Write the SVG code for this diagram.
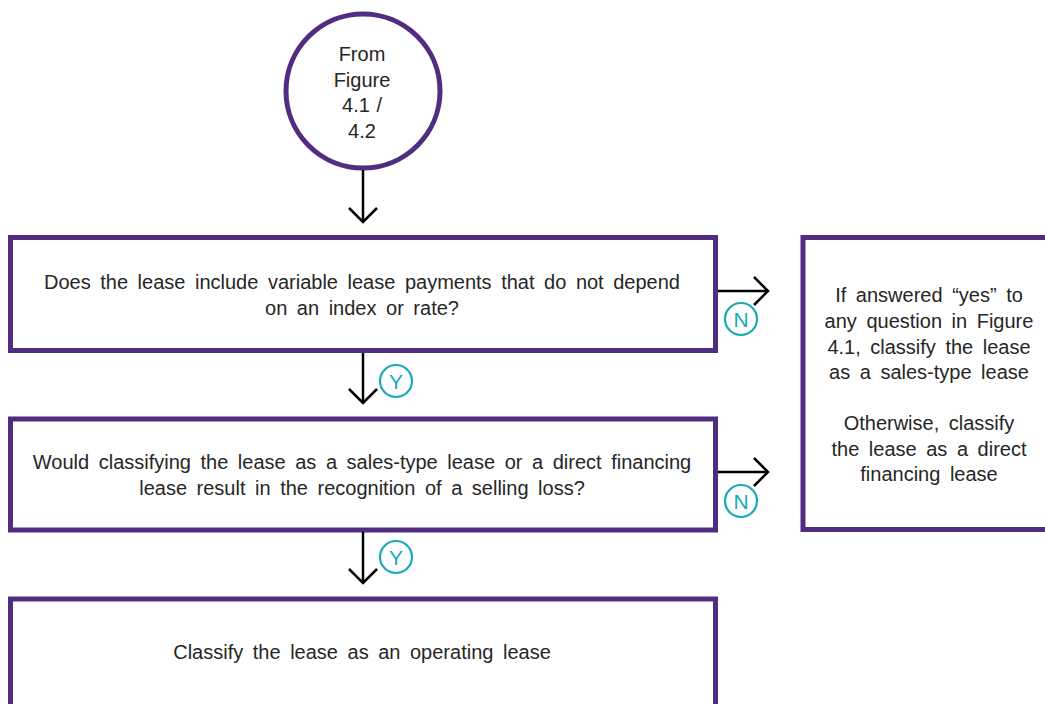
<svg xmlns="http://www.w3.org/2000/svg" width="1045" height="704" viewBox="0 0 1045 704">
<defs>
<style>
.box{fill:#fff;stroke:#512D82;stroke-width:5}
.t{font-family:"Liberation Sans",Arial,sans-serif;font-size:20px;word-spacing:4px;fill:#262626;text-anchor:middle}
.c{fill:none;stroke:#1AAAB5;stroke-width:2.2}
.ct{font-family:"Liberation Sans",Arial,sans-serif;font-size:21px;fill:#1AAAB5;text-anchor:middle}
.ln{stroke:#000;stroke-width:2.5;fill:none}
</style>
<marker id="ah" viewBox="0 0 20 32" refX="18" refY="16" markerWidth="20" markerHeight="32" markerUnits="userSpaceOnUse" orient="auto">
<path d="M4,2 L18,16 L4,30" fill="none" stroke="#000" stroke-width="2.5"/>
</marker>
</defs>
<rect width="1045" height="704" fill="#fff"/>
<g id="start">
<circle cx="363" cy="91" r="77" fill="#fff" stroke="#512D82" stroke-width="5"/>
<text class="t" style="word-spacing:1px"><tspan x="362" y="61">From</tspan><tspan x="362" y="86.5">Figure</tspan><tspan x="362" y="112">4.1 /</tspan><tspan x="362" y="137.5">4.2</tspan></text>
</g>
<g id="q1">
<rect class="box" x="10.5" y="237.5" width="705" height="113"/>
<text class="t"><tspan x="362" y="289">Does the lease include variable lease payments that do not depend</tspan><tspan x="362" y="315">on an index or rate?</tspan></text>
</g>
<g id="q2">
<rect class="box" x="10.5" y="419" width="705" height="111"/>
<text class="t"><tspan x="362" y="469">Would classifying the lease as a sales-type lease or a direct financing</tspan><tspan x="362" y="495">lease result in the recognition of a selling loss?</tspan></text>
</g>
<g id="operating">
<rect class="box" x="10.5" y="599" width="705" height="120"/>
<text class="t" x="362" y="659">Classify the lease as an operating lease</text>
</g>
<g id="classify">
<rect class="box" x="803" y="237.5" width="260" height="292"/>
<text class="t"><tspan x="929" y="302">If answered “yes” to</tspan><tspan x="929" y="328">any question in Figure</tspan><tspan x="929" y="353.5">4.1, classify the lease</tspan><tspan x="929" y="379">as a sales-type lease</tspan><tspan x="929" y="430">Otherwise, classify</tspan><tspan x="929" y="455.5">the lease as a direct</tspan><tspan x="929" y="481">financing lease</tspan></text>
</g>
<g id="connectors">
<line class="ln" x1="363" y1="170" x2="363" y2="222" marker-end="url(#ah)"/>
<line class="ln" x1="363" y1="353" x2="363" y2="403" marker-end="url(#ah)"/>
<line class="ln" x1="363" y1="532" x2="363" y2="583" marker-end="url(#ah)"/>
<line class="ln" x1="718" y1="291" x2="768" y2="291" marker-end="url(#ah)"/>
<line class="ln" x1="718" y1="472" x2="768" y2="472" marker-end="url(#ah)"/>
<circle class="c" cx="396" cy="381" r="16"/>
<text class="ct" x="396" y="388.5">Y</text>
<circle class="c" cx="396" cy="557" r="16"/>
<text class="ct" x="396" y="564.5">Y</text>
<circle class="c" cx="741" cy="319" r="16"/>
<text class="ct" x="741" y="326.5">N</text>
<circle class="c" cx="741" cy="501" r="16"/>
<text class="ct" x="741" y="508.5">N</text>
</g>
</svg>
